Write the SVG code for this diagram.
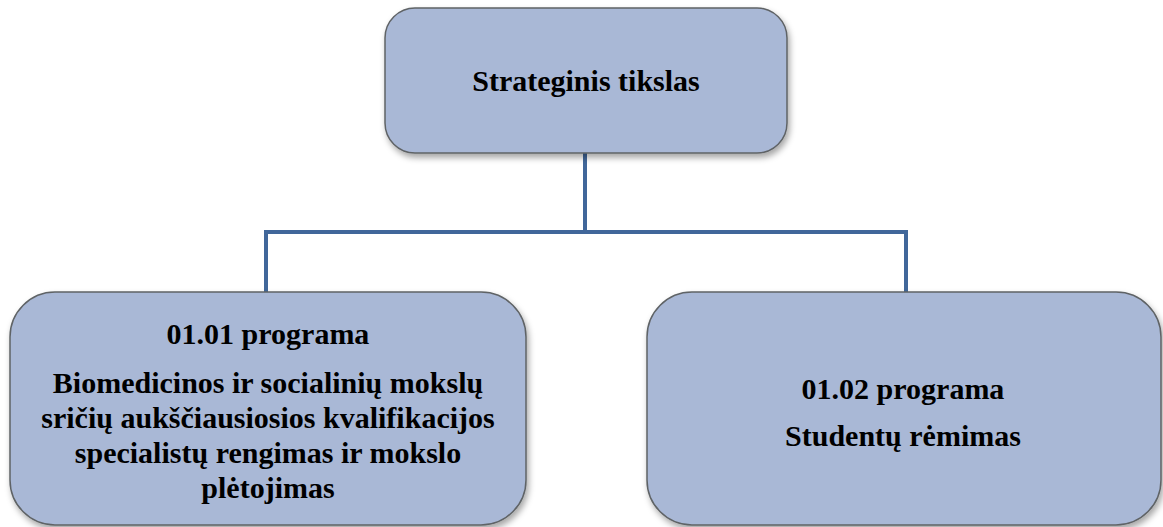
<svg xmlns="http://www.w3.org/2000/svg" width="1163" height="527" viewBox="0 0 1163 527">
<defs>
<filter id="sh" x="-10%" y="-10%" width="120%" height="130%">
<feDropShadow dx="2" dy="4" stdDeviation="3" flood-color="#000" flood-opacity="0.35"/>
</filter>
<style>
.box{fill:#A9B8D6;stroke:#5F6366;stroke-width:1.5;filter:url(#sh)}
.t{font-family:"Liberation Serif","Times New Roman",serif;font-weight:bold;font-size:30px;fill:#000;text-anchor:middle}
.c{fill:none;stroke:#41679A;stroke-width:4}
</style>
</defs>
<rect width="1163" height="527" fill="#fff"/>
<g id="connectors">
<path class="c" d="M585 153 V232 M266 232 H906 M266 230 V292 M906 230 V292"/>
</g>
<g id="top">
<rect class="box" x="385" y="8" width="402" height="145" rx="30"/>
<text class="t" x="586" y="91">Strateginis tikslas</text>
</g>
<g id="left">
<rect class="box" x="10" y="292" width="516" height="233" rx="45"/>
<text class="t" x="268" y="344">01.01 programa</text>
<text class="t" x="268" y="393">Biomedicinos ir socialinių mokslų</text>
<text class="t" x="268" y="428">sričių aukščiausiosios kvalifikacijos</text>
<text class="t" x="268" y="463">specialistų rengimas ir mokslo</text>
<text class="t" x="268" y="498">plėtojimas</text>
</g>
<g id="right">
<rect class="box" x="647" y="292" width="514" height="233" rx="45"/>
<text class="t" x="903" y="399">01.02 programa</text>
<text class="t" x="903" y="446">Studentų rėmimas</text>
</g>
</svg>
